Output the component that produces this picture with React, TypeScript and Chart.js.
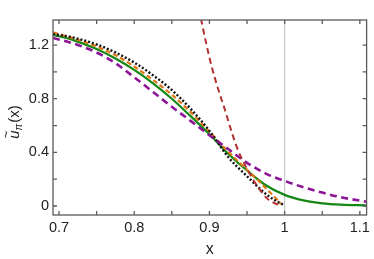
import React, { useEffect, useRef } from "react";
import { Chart, registerables } from "chart.js";

Chart.register(...registerables);

// ---- data ----
const greenX = [0.692, 0.72, 0.75, 0.775, 0.8, 0.825, 0.85, 0.875, 0.9, 0.925, 0.95, 0.975, 1.0, 1.025, 1.05, 1.075, 1.109];
const greenY = [1.277, 1.235, 1.17, 1.1, 1.015, 0.915, 0.8, 0.67, 0.535, 0.39, 0.265, 0.155, 0.083, 0.042, 0.02, 0.01, 0.005];

const blackX = [0.692, 0.72, 0.75, 0.775, 0.8, 0.825, 0.85, 0.875, 0.9, 0.925, 0.95, 0.975, 0.988, 1.0];
const blackY = [1.282, 1.255, 1.205, 1.145, 1.07, 0.975, 0.865, 0.725, 0.56, 0.365, 0.222, 0.09, 0.04, 0.005];

const orangeX = [0.692, 0.72, 0.75, 0.775, 0.8, 0.825, 0.85, 0.875, 0.9, 0.925, 0.95, 0.965, 0.978, 0.988, 0.995];
const orangeY = [1.295, 1.248, 1.19, 1.125, 1.04, 0.94, 0.83, 0.7, 0.555, 0.405, 0.27, 0.19, 0.115, 0.06, 0.015];

const purpleX = [0.692, 0.72, 0.75, 0.775, 0.8, 0.825, 0.85, 0.875, 0.9, 0.925, 0.95, 0.975, 1.0, 1.025, 1.05, 1.075, 1.109];
const purpleY = [1.253, 1.21, 1.145, 1.065, 0.96, 0.85, 0.74, 0.635, 0.528, 0.425, 0.322, 0.242, 0.187, 0.14, 0.1, 0.065, 0.032];

const redX = [0.886, 0.889, 0.895, 0.903, 0.912, 0.9207, 0.93, 0.938, 0.951, 0.9645, 0.977, 0.987, 0.995];
const redY = [1.47, 1.39, 1.23, 1.04, 0.865, 0.716, 0.545, 0.416, 0.267, 0.142, 0.055, 0.02, 0.005];

const refLineX = [1, 1];
const refLineY = [-0.2, 1.6];

const xTickValues = [0.7, 0.8, 0.9, 1.0, 1.1];
const xTickLabels = ["0.7", "0.8", "0.9", "1", "1.1"];
const xMinorTicks = [0.7, 0.75, 0.8, 0.85, 0.9, 0.95, 1.0, 1.05, 1.1];
const yTickValues = [0, 0.4, 0.8, 1.2];
const yTickLabels = ["0", "0.4", "0.8", "1.2"];
const yMinorTicks = [0, 0.2, 0.4, 0.6, 0.8, 1.0, 1.2];

const xLabel = "x";

const zip = (xs: number[], ys: number[]) => xs.map((x, i) => ({ x, y: ys[i] }));

const FONT = "'Liberation Sans', Arial, sans-serif";

const framePlugin = {
  id: "frameTicks",
  afterDraw(chart: any) {
    const { ctx, chartArea, scales } = chart;
    const { left, right, top, bottom } = chartArea;
    ctx.save();
    ctx.strokeStyle = "#5a5a5a";
    ctx.lineWidth = 1.3;
    ctx.strokeRect(left, top, right - left, bottom - top);
    const L = 4;
    ctx.beginPath();
    for (const v of xMinorTicks) {
      const px = scales.x.getPixelForValue(v);
      ctx.moveTo(px, bottom);
      ctx.lineTo(px, bottom - L);
      ctx.moveTo(px, top);
      ctx.lineTo(px, top + L);
    }
    for (const v of yMinorTicks) {
      const py = scales.y.getPixelForValue(v);
      ctx.moveTo(left, py);
      ctx.lineTo(left + L, py);
      ctx.moveTo(right, py);
      ctx.lineTo(right - L, py);
    }
    ctx.stroke();

    // x axis title
    ctx.fillStyle = "#222";
    ctx.font = `16px ${FONT}`;
    ctx.textAlign = "center";
    ctx.textBaseline = "alphabetic";
    ctx.fillText(xLabel, (left + right) / 2, 254);

    // y axis title: ũ_π(x)
    ctx.translate(19, 122);
    ctx.rotate(-Math.PI / 2);
    const big = `italic 15px ${FONT}`;
    const small = `italic 10px ${FONT}`;
    const up = `15px ${FONT}`;
    ctx.font = big;
    const wU = ctx.measureText("u").width;
    ctx.font = small;
    const wP = ctx.measureText("π").width;
    ctx.font = up;
    const wX = ctx.measureText("(x)").width;
    const total = wU + wP + 1 + wX;
    let cx = -total / 2;
    ctx.textAlign = "left";
    ctx.font = big;
    ctx.fillText("u", cx, 0);
    ctx.font = `13px ${FONT}`;
    ctx.fillText("~", cx + 0.5, -9);
    cx += wU;
    ctx.font = small;
    ctx.fillText("π", cx, 3);
    cx += wP + 1;
    ctx.font = up;
    ctx.fillText("(x)", cx, 0);
    ctx.restore();
  },
};

export default function App() {
  const ref = useRef<HTMLCanvasElement | null>(null);
  useEffect(() => {
    document.body.style.margin = "0";
    const canvas = ref.current!;
    const base = {
      showLine: true,
      pointRadius: 0,
      fill: false,
      cubicInterpolationMode: "monotone" as const,
    };
    const chart = new Chart(canvas, {
      type: "scatter",
      data: {
        datasets: [
          {
            ...base,
            data: zip(redX, redY),
            borderColor: "rgb(178,48,48)",
            borderWidth: 2,
            borderDash: [6, 4],
            order: 1,
          },
          {
            ...base,
            data: zip(purpleX, purpleY),
            borderColor: "rgb(140,20,150)",
            borderWidth: 2.6,
            borderDash: [7, 4.5],
            order: 2,
          },
          {
            ...base,
            data: zip(blackX, blackY),
            borderColor: "#111",
            borderWidth: 2.4,
            borderDash: [2, 2],
            order: 3,
          },
          {
            ...base,
            data: zip(orangeX, orangeY),
            borderColor: "rgb(222,118,20)",
            borderWidth: 2.2,
            borderDash: [5, 3],
            order: 4,
          },
          {
            ...base,
            data: zip(greenX, greenY),
            borderColor: "rgb(20,135,20)",
            borderWidth: 2.2,
            order: 5,
          },
          {
            ...base,
            cubicInterpolationMode: "default" as const,
            data: zip(refLineX, refLineY),
            borderColor: "rgb(190,190,190)",
            borderWidth: 1,
            order: 6,
          },
        ],
      },
      options: {
        animation: false,
        responsive: false,
        maintainAspectRatio: false,
        layout: { padding: { top: 20, right: 4, left: 0, bottom: 0 } },
        plugins: {
          legend: { display: false },
          tooltip: { enabled: false },
        },
        scales: {
          x: {
            type: "linear",
            min: 0.692,
            max: 1.109,
            grid: { display: false, drawTicks: false },
            border: { display: false },
            afterBuildTicks: (s: any) => {
              s.ticks = xTickValues.map((v) => ({ value: v }));
            },
            afterFit: (s: any) => {
              s.height = 44;
            },
            ticks: {
              autoSkip: false,
              maxRotation: 0,
              padding: 4,
              color: "#222",
              font: { family: FONT, size: 14.5 },
              callback: (_v: any, i: number) => xTickLabels[i],
            },
          },
          y: {
            type: "linear",
            min: -0.067,
            max: 1.387,
            grid: { display: false, drawTicks: false },
            border: { display: false },
            afterBuildTicks: (s: any) => {
              s.ticks = yTickValues.map((v) => ({ value: v }));
            },
            afterFit: (s: any) => {
              s.width = 53;
            },
            ticks: {
              autoSkip: false,
              padding: 4,
              color: "#222",
              font: { family: FONT, size: 14.5 },
              callback: (_v: any, i: number) => yTickLabels[i],
            },
          },
        },
      },
      plugins: [framePlugin],
    });
    return () => chart.destroy();
  }, []);
  return (
    <div style={{ position: "fixed", left: 0, top: 0, width: 374, height: 259 }}>
      <canvas ref={ref} width={374} height={259} style={{ width: 374, height: 259 }} />
    </div>
  );
}
